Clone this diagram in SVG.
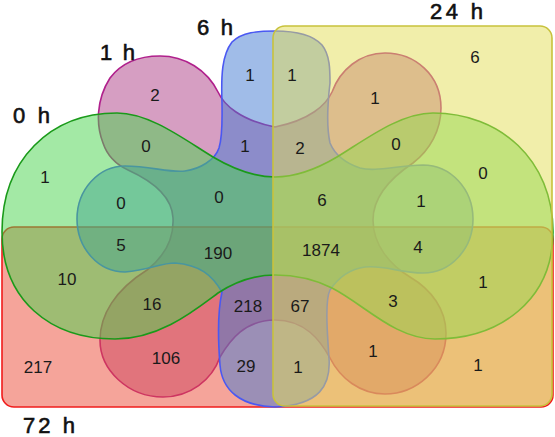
<svg xmlns="http://www.w3.org/2000/svg" width="555" height="437" viewBox="0 0 555 437">
<style>
.set{fill-opacity:0.5;stroke-width:1.6}
.n{font-family:"Liberation Sans",Arial,sans-serif;font-size:17px;fill:#1a1a1a;text-anchor:middle}
.lbl{font-family:"Liberation Sans",Arial,sans-serif;font-size:22px;fill:#111;stroke:#111;stroke-width:0.6}
</style>
<rect width="555" height="437" fill="#ffffff"/>
<g id="set-1h">
<path class="set" fill="#ad3d85" stroke="#b0208c" d="M103,143 C96,125 96,100 110,78 C122,62 140,56 160,56 C185,56 207,70 218,92 C224,105 240,120 275,127 C310,120 326,105 332,92 C340,70 360,53 385,53 C415,53 441,75 441,108 C441,130 430,150 413,163 C395,175 373,195 373,220 C373,245 390,265 410,277 C432,290 446,310 446,333 C446,370 415,394 385,394 C360,394 340,378 330,358 C320,340 305,320 275,320 C245,320 230,340 220,357 C212,380 190,397 163,397 C128,397 100,370 100,340 C100,315 115,290 147,270 C166,255 174,238 173,218 C172,195 150,180 128,170 C115,164 107,155 103,143 Z"/>
</g>
<g id="set-72h">
<rect class="set" x="2" y="227" width="551" height="180" rx="12" fill="#eb4935" stroke="#f01c1c"/>
</g>
<g id="set-6h">
<path class="set" fill="#4179d1" stroke="#4a58f2" d="M222,103 C221,75 222,55 232,42 C242,32 258,31 275,31 C295,31 312,34 322,45 C330,55 330,70 330,83 C328,100 326,125 330,143 C335,155 345,163 360,168 C375,172 395,166 423,165 A50,54 0 0 1 473,219 A50,54 0 0 1 423,273 C400,273 385,265 365,267 C350,269 338,278 330,290 C325,300 327,330 329,358 C331,385 320,405 275,407 C240,406 222,390 220,365 C218,340 218,310 222,292 C212,275 200,265 175,263 C160,263 150,270 125,272 A48,53 0 0 1 77,219 A48,53 0 0 1 125,166 C150,166 170,173 185,171 C200,169 215,160 219,148 C223,135 222,115 222,103 Z"/>
</g>
<g id="set-0h">
<path class="set" fill="#47d34b" stroke="#1a9a1a" d="M2,232 C2,160 50,113 117,113 C150,113 185,140 213,157 C235,170 255,177 275,177 C295,177 315,170 337,157 C365,140 400,113 433,113 C500,113 553,160 553,232 C553,300 500,339 435,339 C395,339 365,305 332,288 C310,277 290,275 275,275 C255,275 235,282 218,293 C195,310 160,339 115,339 C50,339 2,300 2,232 Z"/>
</g>
<g id="set-24h">
<rect class="set" x="273" y="26" width="279" height="380" rx="12" fill="#e3dd55" stroke="#c8c23c"/>
</g>
<g id="labels">
<text class="lbl" x="13" y="123" textLength="37" lengthAdjust="spacing">0 h</text>
<text class="lbl" x="100" y="60" textLength="35" lengthAdjust="spacing">1 h</text>
<text class="lbl" x="197" y="35" textLength="36" lengthAdjust="spacing">6 h</text>
<text class="lbl" x="430" y="19" textLength="53" lengthAdjust="spacing">24 h</text>
<text class="lbl" x="23" y="433" textLength="52" lengthAdjust="spacing">72 h</text>
</g>
<g id="counts">
<text class="n" x="155" y="101">2</text>
<text class="n" x="250" y="81">1</text>
<text class="n" x="292" y="81">1</text>
<text class="n" x="475" y="63">6</text>
<text class="n" x="375" y="104">1</text>
<text class="n" x="146" y="152">0</text>
<text class="n" x="245" y="152">1</text>
<text class="n" x="300" y="154">2</text>
<text class="n" x="396" y="150">0</text>
<text class="n" x="45" y="183">1</text>
<text class="n" x="121" y="209">0</text>
<text class="n" x="219" y="203">0</text>
<text class="n" x="322" y="206">6</text>
<text class="n" x="421" y="207">1</text>
<text class="n" x="483" y="179">0</text>
<text class="n" x="121" y="251">5</text>
<text class="n" x="218" y="259">190</text>
<text class="n" x="321" y="256">1874</text>
<text class="n" x="418" y="253">4</text>
<text class="n" x="67" y="285">10</text>
<text class="n" x="152" y="310">16</text>
<text class="n" x="248" y="312">218</text>
<text class="n" x="300" y="312">67</text>
<text class="n" x="393" y="307">3</text>
<text class="n" x="483" y="288">1</text>
<text class="n" x="38" y="373">217</text>
<text class="n" x="166" y="364">106</text>
<text class="n" x="246" y="372">29</text>
<text class="n" x="298" y="373">1</text>
<text class="n" x="373" y="357">1</text>
<text class="n" x="478" y="371">1</text>
</g>
</svg>
